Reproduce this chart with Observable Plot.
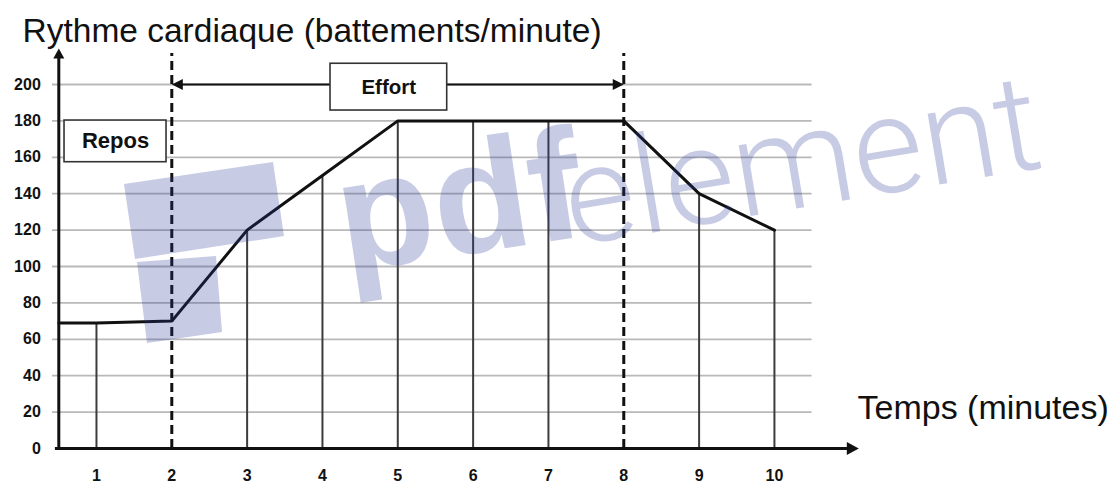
<!DOCTYPE html>
<html>
<head>
<meta charset="utf-8">
<script src="https://cdn.jsdelivr.net/npm/d3@7"></script>
<script src="https://cdn.jsdelivr.net/npm/@observablehq/plot@0.6"></script>
<style>
  html, body { margin: 0; padding: 0; background: #fff; }
  #chart { width: 1111px; height: 484px; }
  #chart svg { display: block; }
</style>
</head>
<body>
<div id="chart"></div>
<script>
// ---- data ----
const minutes = [1, 2, 3, 4, 5, 6, 7, 8, 9, 10];
const heartRate = [69, 70, 120, 150, 180, 180, 180, 180, 140, 120];
const yTicks = [0, 20, 40, 60, 80, 100, 120, 140, 160, 180, 200];
const xTicks = [1, 2, 3, 4, 5, 6, 7, 8, 9, 10];
const phaseBounds = [2, 8];           // start / end of effort (minutes)
const effortLevel = [200];            // level of the effort arrow
const phaseNames = ["Repos", "Effort"];
const yTitle = "Rythme cardiaque (battements/minute)";
const xTitle = "Temps (minutes)";

// ---- layout ----
const W = 1111, H = 484;
const xDomain = [0.5, 11.2];
const yDomain = [0, 220];
const font = "'Liberation Sans', Arial, Helvetica, sans-serif";
const mLeft = 58.3;
const mRight = W - mLeft - (xDomain[1] - xDomain[0]) * 75.33;
const mBottom = 36;
const mTop = H - mBottom - (yDomain[1] - yDomain[0]) * 1.82;

const points = [{t: xDomain[0], bpm: heartRate[0]}]
  .concat(minutes.map((t, i) => ({t, bpm: heartRate[i]})));
const drops = points.slice(1).filter(d => !phaseBounds.includes(d.t));

// arrow-head symbol, tip at the origin, pointing at angle (deg, 0 = right)
function head(angleDeg, ratio) {
  const a = angleDeg * Math.PI / 180, c = Math.cos(a), s = Math.sin(a);
  return {
    draw(ctx, size) {
      const L = Math.sqrt(size / Math.PI), w = L * ratio;
      const pts = [[0, 0], [-L, -w], [-L, w]].map(([x, y]) => [x * c - y * s, x * s + y * c]);
      ctx.moveTo(pts[0][0], pts[0][1]);
      ctx.lineTo(pts[1][0], pts[1][1]);
      ctx.lineTo(pts[2][0], pts[2][1]);
      ctx.closePath();
    }
  };
}

const yAxisTop = 219.8;
const xAxisEnd = 11.12;
const tickFont = {fontSize: 16, fontWeight: "bold", fill: "#111"};

const chart = Plot.plot({
  width: W,
  height: H,
  marginLeft: mLeft,
  marginRight: mRight,
  marginBottom: mBottom,
  marginTop: mTop,
  style: {fontFamily: font, background: "#fff", overflow: "visible"},
  x: {domain: xDomain, axis: null},
  y: {domain: yDomain, axis: null},
  marks: [
    // horizontal grid
    Plot.ruleY(yTicks.filter(d => d > 0), {x1: 0.416, x2: 10.5, stroke: "#b9b9b9", strokeWidth: 1.8}),
    // drop lines
    Plot.ruleX(drops, {x: "t", y1: 0, y2: "bpm", stroke: "#3c3c3c", strokeWidth: 2}),
    // heart rate curve
    Plot.line(points, {x: "t", y: "bpm", stroke: "#111", strokeWidth: 3, strokeLinejoin: "miter"}),
    // dashed phase boundaries
    Plot.ruleX(phaseBounds, {y1: 0, y2: 217, stroke: "#111", strokeWidth: 3, strokeDasharray: "9,5"}),
    // effort arrow
    Plot.ruleY(effortLevel, {x1: phaseBounds[0] + 0.12, x2: phaseBounds[1] - 0.12, stroke: "#111", strokeWidth: 2}),
    Plot.dot([{x: phaseBounds[0], y: effortLevel[0]}], {x: "x", y: "y", r: 11, symbol: head(180, 0.5), fill: "#111", stroke: "none"}),
    Plot.dot([{x: phaseBounds[1], y: effortLevel[0]}], {x: "x", y: "y", r: 11, symbol: head(0, 0.5), fill: "#111", stroke: "none"}),
    // label boxes
    Plot.rect([{x1: 4.107, x2: 5.656, y1: 185.7, y2: 211.4}], {x1: "x1", x2: "x2", y1: "y1", y2: "y2", fill: "#fff", stroke: "#333", strokeWidth: 1.6}),
    Plot.rect([{x1: 0.576, x2: 1.93, y1: 157.3, y2: 180.2}], {x1: "x1", x2: "x2", y1: "y1", y2: "y2", fill: "#fff", stroke: "#333", strokeWidth: 1.6}),
    Plot.text([phaseNames[1]], {x: 4.88, y: 198.5, text: d => d, fontSize: 20.5, fontWeight: "bold", fill: "#111", lineAnchor: "middle"}),
    Plot.text([phaseNames[0]], {x: 1.253, y: 168.8, text: d => d, fontSize: 22, fontWeight: "bold", fill: "#111", lineAnchor: "middle"}),
    // axes lines + arrow heads
    Plot.ruleX([xDomain[0]], {y1: -1.1, y2: yAxisTop - 3, stroke: "#111", strokeWidth: 3}),
    Plot.dot([{x: xDomain[0], y: yAxisTop}], {x: "x", y: "y", r: 10, symbol: head(-90, 0.55), fill: "#111", stroke: "none"}),
    Plot.ruleY([0], {x1: 0.455, x2: xAxisEnd - 0.1, stroke: "#111", strokeWidth: 3}),
    Plot.dot([{x: xAxisEnd, y: 0}], {x: "x", y: "y", r: 12, symbol: head(0, 0.55), fill: "#111", stroke: "none"}),
    // tick labels
    Plot.text(yTicks, {x: xDomain[0], y: d => d, text: d => String(d), dx: -18, textAnchor: "end", lineAnchor: "middle", ...tickFont}),
    Plot.text(xTicks, {x: d => d, y: 0, text: d => String(d), dy: 27, textAnchor: "middle", lineAnchor: "middle", ...tickFont}),
    // titles
    Plot.text([yTitle], {frameAnchor: "top-left", text: d => d, dx: 22 - mLeft, dy: 41 - mTop, textAnchor: "start", lineAnchor: "bottom", fontSize: 33.5, fill: "#111"}),
    Plot.text([xTitle], {frameAnchor: "bottom-right", text: d => d, dx: 857 - (W - mRight), dy: 418 - (H - mBottom), textAnchor: "start", lineAnchor: "bottom", fontSize: 34, fill: "#111"})
  ]
});

document.getElementById("chart").appendChild(chart);

// ---- watermark overlay (decoration of the source picture) ----
const svg = d3.select(chart);
const wm = svg.append("g")
  .attr("fill", "rgb(40,55,150)").attr("fill-opacity", 0.26)
  .attr("text-anchor", "start").attr("pointer-events", "none");
wm.append("polygon").attr("points", "124,184 273,162 284,236 135,259");
wm.append("polygon").attr("points", "137,262 216,256 222,332 147,343");
wm.append("text").attr("transform", "translate(345,272) rotate(-8.5)")
  .attr("font-family", font).attr("font-weight", "bold").attr("font-size", 158).text("pdf");
wm.append("text").attr("transform", "translate(572,246) rotate(-9.5)")
  .attr("font-family", "Roboto, 'Liberation Sans', sans-serif").attr("font-weight", 300).attr("font-size", 136).text("element");
</script>
</body>
</html>
